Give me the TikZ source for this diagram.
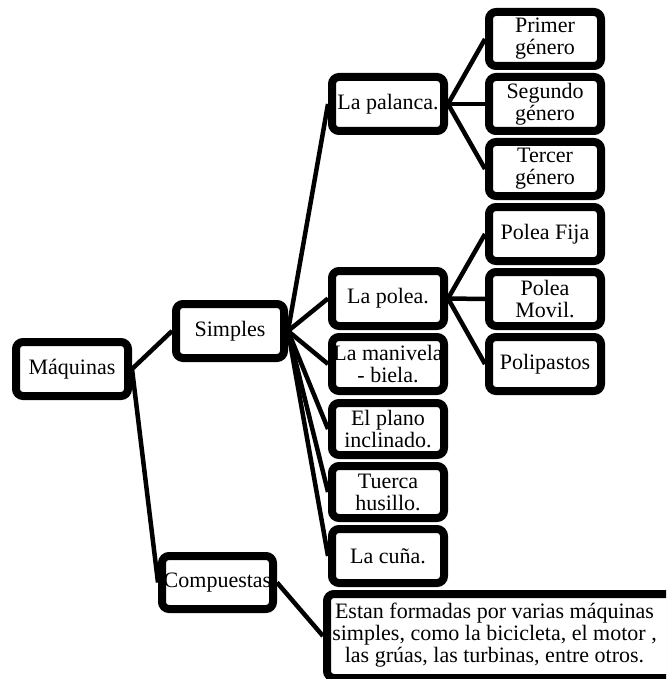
\documentclass[tikz,border=0pt]{standalone}
\usepackage{fontspec}
\setmainfont{Liberation Serif}
\usetikzlibrary{shadows,backgrounds}
\begin{document}
\begin{tikzpicture}[x=1pt,y=-1pt,
  box/.style={draw=black, line width=8pt, rounded corners=7pt, fill=white,
    align=center, inner sep=0pt, font=\fontsize{22}{22}\selectfont,
    drop shadow={shadow xshift=2pt, shadow yshift=-3pt, opacity=0.18}},
  sz/.style 2 args={minimum width=#1pt, minimum height=#2pt},
  link/.style={line width=4.5pt, draw=black}]
\useasboundingbox (0,0) rectangle (666,679);
\clip (0,0) rectangle (666,679);

% root and first level
\node[box, sz={112}{54}] (maq) at (72,369) {Máquinas};
\node[box, sz={108}{54}] (sim) at (230,331) {Simples};
\node[box, sz={111}{53}] (com) at (217.5,582.5) {Compuestas};

% simple machines
\node[box, sz={112}{54}] (pal) at (388,104) {La palanca.};
\node[box, sz={112}{55}] (pol) at (388,298.5) {La polea.};
\node[box, sz={112}{54}] (man) at (388,364) {La manivela\\- biela.};
\node[box, sz={112}{52}] (pla) at (388,429) {El plano\\inclinado.};
\node[box, sz={112}{52}] (tue) at (388,492) {Tuerca\\husillo.};
\node[box, sz={112}{54}] (cun) at (388,556) {La cuña.};

% lever classes
\node[box, sz={112}{54}] (g1) at (545,39) {Primer\\género};
\node[box, sz={112}{54}] (g2) at (545,104) {Segundo\\género};
\node[box, sz={112}{54}] (g3) at (545,169) {Tercer\\género};

% pulley types
\node[box, sz={112}{54}] (p1) at (545,234) {Polea Fija};
\node[box, sz={112}{54}] (p2) at (545,299) {Polea\\Movil.};
\node[box, sz={112}{54}] (p3) at (545,364) {Polipastos};

% compound machines: wide box running past the right edge
\node[box, sz={373}{84}] (desc) at (513.5,636)
  {\hspace*{-19pt}\begin{tabular}{@{}c@{}}Estan formadas por varias máquinas\\
   simples, como la bicicleta, el motor ,\\
   las grúas, las turbinas, entre otros.\end{tabular}\hspace*{19pt}};

% connectors behind the boxes
\begin{scope}[on background layer]
  \draw[link] (maq.east) -- (sim.west);
  \draw[link] (maq.east) -- (com.west);
  \foreach \c in {pal,pol,man,pla,tue,cun}
    \draw[link] (sim.east) -- (\c.west);
  \foreach \c in {g1,g2,g3}
    \draw[link] (pal.east) -- (\c.west);
  \foreach \c in {p1,p2,p3}
    \draw[link] (pol.east) -- (\c.west);
  \draw[link] (com.east) -- (desc.west);
\end{scope}
\end{tikzpicture}
\end{document}
